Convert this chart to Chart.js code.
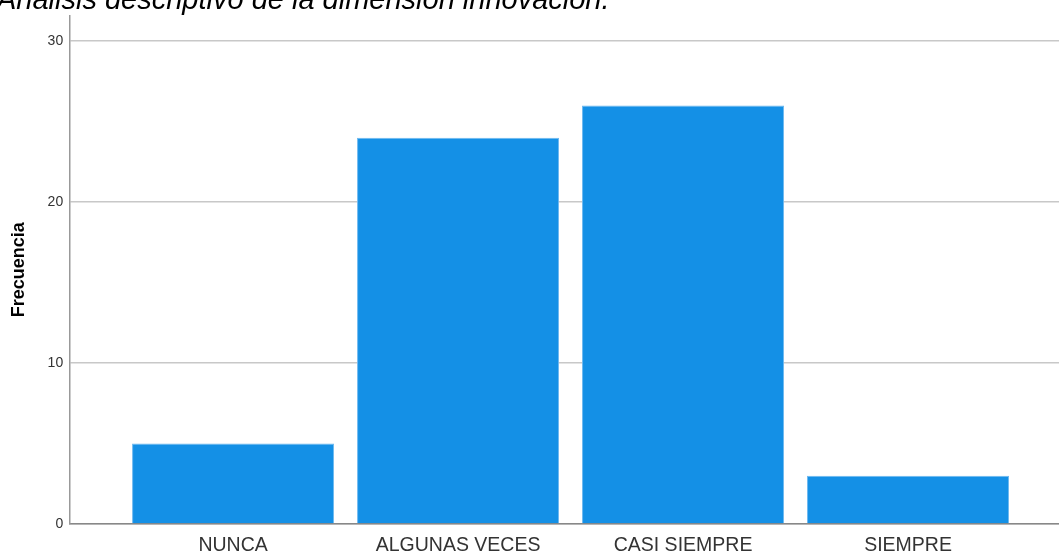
<!DOCTYPE html>
<html>
<head>
<meta charset="utf-8">
<script src="https://cdn.jsdelivr.net/npm/chart.js@4/dist/chart.umd.min.js"></script>
<style>
  html, body { margin: 0; padding: 0; background: #fff; overflow: hidden; }
  #wrap { position: relative; width: 1059px; height: 553px; overflow: hidden; }
  #title {
    position: absolute; left: -3px; top: -15px;
    font: italic 29px "Liberation Sans", Arial, sans-serif; line-height: 29px;
    color: #000; white-space: nowrap; z-index: 2;
  }
  canvas { position: absolute; left: 0; top: 0; }
</style>
</head>
<body>
<div id="wrap">
  <div id="title">Análisis descriptivo de la dimensión innovación.</div>
  <canvas id="myChart" width="1059" height="553"></canvas>
</div>
<script>
const categories = ['NUNCA', 'ALGUNAS VECES', 'CASI SIEMPRE', 'SIEMPRE'];
const frecuencia = [5, 24, 26, 3];
const yTicks = [0, 10, 20, 30];

var ctx = document.getElementById('myChart').getContext('2d');
var points = categories.map((c, i) => ({ x: i + 1, y: frecuencia[i] }));

var myChart = new Chart(ctx, {
    type: 'bar',
    data: {
        datasets: [{
            label: 'Frecuencia',
            data: points,
            backgroundColor: 'rgb(20, 144, 230)',
            borderColor: 'rgb(110, 185, 240)',
            borderWidth: { top: 1, left: 1, right: 1, bottom: 0 },
            categoryPercentage: 1,
            barPercentage: 0.898
        }]
    },
    options: {
        responsive: false,
        animation: false,
        layout: { padding: { top: 15, right: 0, left: 0, bottom: 0 } },
        plugins: { legend: { display: false }, tooltip: { enabled: false } },
        scales: {
            x: {
                type: 'linear',
                offset: false,
                min: 0.276,
                max: 4.671,
                afterBuildTicks: axis => { axis.ticks = categories.map((c, i) => ({ value: i + 1 })); },
                afterFit: axis => { axis.height = 29; },
                ticks: {
                    callback: v => categories[v - 1],
                    font: { family: 'Liberation Sans', size: 19.5 },
                    color: '#333',
                    padding: 10,
                    autoSkip: false,
                    maxRotation: 0
                },
                grid: { display: false, drawTicks: false, offset: false },
                border: { color: '#888', width: 1.5 }
            },
            y: {
                min: 0,
                max: 31.6,
                afterBuildTicks: axis => { axis.ticks = yTicks.map(v => ({ value: v })); },
                ticks: {
                    font: { family: 'Liberation Sans', size: 14 },
                    color: '#333',
                    padding: 7
                },
                grid: { color: '#c8c8c8', lineWidth: 1.5, drawTicks: false },
                border: { color: '#999', width: 1.5 },
                title: {
                    display: true,
                    text: 'Frecuencia',
                    font: { family: 'Liberation Sans', size: 18, weight: 'bold' },
                    color: '#000',
                    padding: { top: 8, bottom: 11 }
                }
            }
        }
    }
});
</script>
</body>
</html>
